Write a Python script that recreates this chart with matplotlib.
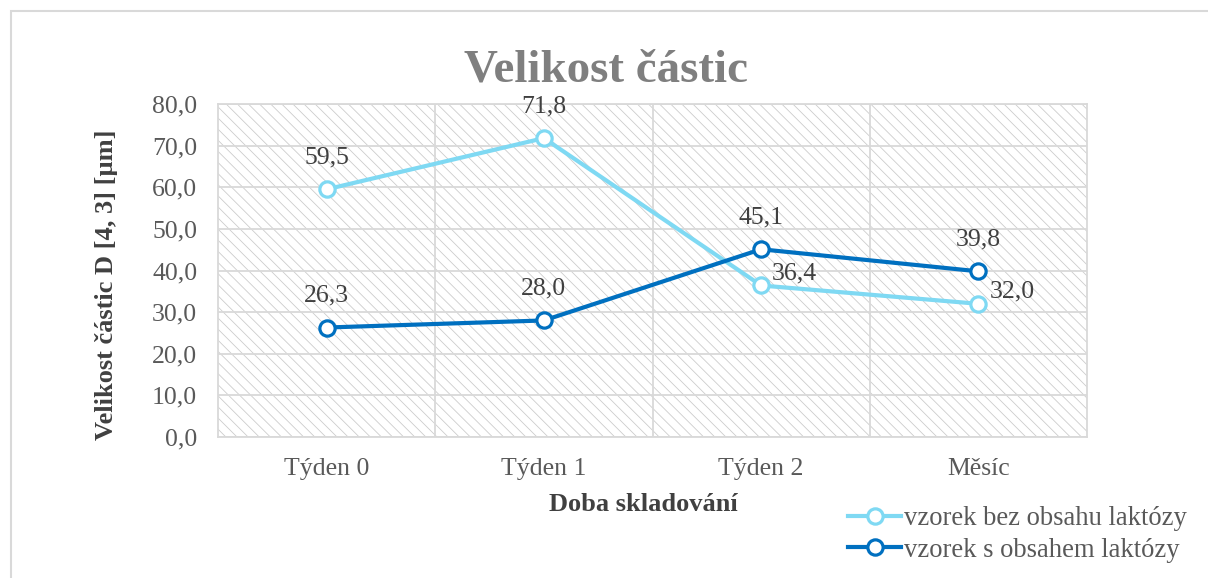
import matplotlib.pyplot as plt
import numpy as np
from matplotlib.patches import Rectangle

categories = ['Týden 0', 'Týden 1', 'Týden 2', 'Měsíc']
bez_laktozy = [59.5, 71.8, 36.4, 32.0]
s_laktozou = [26.3, 28.0, 45.1, 39.8]
series_names = ['vzorek bez obsahu laktózy', 'vzorek s obsahem laktózy']
yticks = [0, 10, 20, 30, 40, 50, 60, 70, 80]

plt.rcParams['font.family'] = ['Liberation Serif', 'DejaVu Serif']
plt.rcParams['hatch.color'] = '#cccccc'
plt.rcParams['hatch.linewidth'] = 0.6

light = '#7fd9f3'
dark = '#0070c0'
grid_c = '#d9d9d9'
txt = '#595959'


def fmt(v):
    return ('%.1f' % v).replace('.', ',')


def main():
    fig = plt.figure(figsize=(12.08, 5.78), dpi=100)
    # outer chart frame
    fig.patches.append(Rectangle((11 / 1208, -0.1), 1.1, 1.1 - 11 / 578, transform=fig.transFigure,
                                 fill=False, edgecolor=grid_c, lw=1.5))
    ax = fig.add_axes([218 / 1208, 1 - 437 / 578, (1087 - 218) / 1208, (437 - 104) / 578])
    ax.add_patch(Rectangle((0, 0), 1, 1, transform=ax.transAxes, facecolor='white',
                           hatch='\\\\\\', edgecolor='#cccccc', lw=0, zorder=0))

    x = np.arange(len(categories))
    ax.plot(x, bez_laktozy, '-o', color=light, lw=3, ms=11, mfc='white', mec=light, mew=2.3,
            label=series_names[0], zorder=3)
    ax.plot(x, s_laktozou, '-o', color=dark, lw=3, ms=11, mfc='white', mec=dark, mew=2.3,
            label=series_names[1], zorder=3)

    # data labels
    for i, v in enumerate(bez_laktozy):
        if i < 2:
            ax.annotate(fmt(v), (i, v), xytext=(0, 23), textcoords='offset points',
                        ha='center', va='center', fontsize=18.5, color='#404040')
        else:
            ax.annotate(fmt(v), (i, v), xytext=(8, 9), textcoords='offset points',
                        ha='left', va='center', fontsize=18.5, color='#404040')
    for i, v in enumerate(s_laktozou):
        ax.annotate(fmt(v), (i, v), xytext=(0, 23), textcoords='offset points',
                    ha='center', va='center', fontsize=18.5, color='#404040')

    ax.set_xlim(-0.5, len(categories) - 0.5)
    ax.set_ylim(0, 80)
    ax.set_xticks(x)
    ax.set_xticklabels(categories)
    ax.set_xticks(x[:-1] + 0.5, minor=True)
    ax.set_yticks(yticks)
    ax.set_yticklabels([fmt(t) for t in yticks])
    ax.grid(True, which='minor', axis='x', color=grid_c, lw=1.3)
    ax.grid(True, which='major', axis='y', color=grid_c, lw=1.3)
    ax.set_axisbelow(False)
    for line in ax.get_xgridlines() + ax.get_ygridlines():
        line.set_zorder(1)
    ax.tick_params(which='both', length=0, labelsize=18.5, labelcolor=txt)
    ax.tick_params(axis='y', pad=15)
    ax.tick_params(axis='x', pad=15)
    for s in ax.spines.values():
        s.set_color(grid_c)
        s.set_linewidth(1.3)

    ax.set_xlabel('Doba skladování', fontsize=19, fontweight='bold', color='#404040')
    ax.xaxis.set_label_coords(0.489, -0.168)
    ax.set_ylabel('Velikost částic D [4, 3] [µm]', fontsize=19, fontweight='bold',
                  color='#404040')
    ax.yaxis.set_label_coords(-0.115, 0.456)
    fig.text(0.502, 1 - 70 / 578, 'Velikost částic', ha='center', va='center',
             fontsize=33.8, fontweight='bold', color='#7f7f7f')

    fig.legend(loc='upper left', bbox_to_anchor=(848 / 1208, 1 - 506 / 578), frameon=False,
               fontsize=19.2, handlelength=2.0, handletextpad=0.1, labelspacing=0.25,
               borderpad=0, borderaxespad=0, labelcolor=txt)

    fig.savefig('out.png', dpi=100)


if __name__ == '__main__':
    main()
